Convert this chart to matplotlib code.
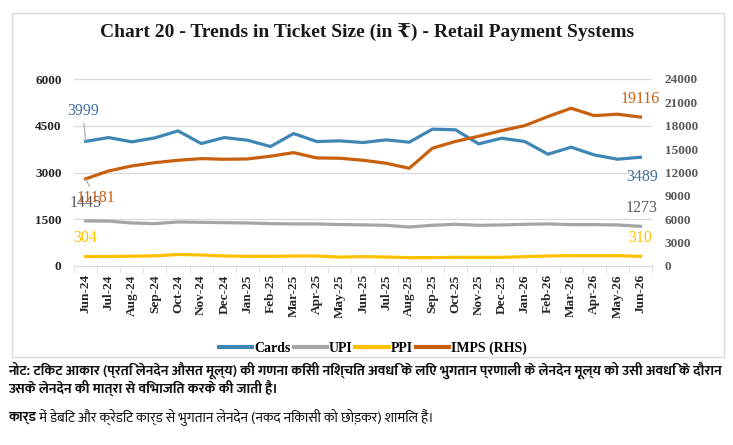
import matplotlib
matplotlib.use("Agg")
import matplotlib.pyplot as plt
from matplotlib.lines import Line2D
from matplotlib.patches import Rectangle

months = ["Jun-24", "Jul-24", "Aug-24", "Sep-24", "Oct-24", "Nov-24", "Dec-24",
          "Jan-25", "Feb-25", "Mar-25", "Apr-25", "May-25", "Jun-25", "Jul-25",
          "Aug-25", "Sep-25", "Oct-25", "Nov-25", "Dec-25", "Jan-26", "Feb-26",
          "Mar-26", "Apr-26", "May-26", "Jun-26"]
cards = [3999, 4121, 3983, 4111, 4336, 3929, 4121, 4036, 3833, 4250, 3993, 4015,
         3961, 4047, 3972, 4390, 4370, 3919, 4100, 3993, 3587, 3812, 3565, 3426, 3489]
upi = [1445, 1440, 1380, 1360, 1413, 1402, 1390, 1380, 1360, 1350, 1350, 1330,
       1320, 1306, 1250, 1306, 1338, 1306, 1317, 1338, 1350, 1327, 1327, 1317, 1273]
ppi = [304, 304, 315, 325, 370, 353, 321, 310, 310, 320, 320, 285, 300, 289, 268,
       268, 279, 279, 279, 300, 321, 331, 331, 331, 310]
imps = [11181, 12199, 12841, 13265, 13570, 13780, 13700, 13740, 14090, 14550, 13870,
        13830, 13570, 13190, 12540, 15110, 15990, 16650, 17380, 18020, 19180, 20250,
        19300, 19480, 19116]
left_ticks = [0, 1500, 3000, 4500, 6000]
right_ticks = [0, 3000, 6000, 9000, 12000, 15000, 18000, 21000, 24000]

title = "Chart 20 - Trends in Ticket Size (in ₹) - Retail Payment Systems"
note1 = "नोट: टिकट आकार (प्रति लेनदेन औसत मूल्य) की गणना किसी निश्चित अवधि के लिए भुगतान प्रणाली के लेनदेन मूल्य को उसी अवधि के दौरान"
note2 = "उसके लेनदेन की मात्रा से विभाजित करके की जाती है।"
note3a = "कार्ड"
note3b = " में डेबिट और क्रेडिट कार्ड से भुगतान लेनदेन (नकद निकासी को छोड़कर) शामिल हैं।"

deva_family = ["Mukta", "Noto Sans Devanagari", "DejaVu Sans"]
SERIF = ["Liberation Serif", "DejaVu Serif", "DejaVu Sans"]

c_cards = "#3F86B4"
c_upi = "#A5A5A5"
c_ppi = "#FFC000"
c_imps = "#C8600E"

fig = plt.figure(figsize=(7.33, 4.45), dpi=100)
fig.patches.append(Rectangle((12 / 733, 1 - 357 / 445), 712 / 733, 344 / 445,
                             transform=fig.transFigure, fill=False,
                             edgecolor="#D9D9D9", linewidth=1.0))

ax = fig.add_axes([74 / 733, 1 - 266 / 445, 578 / 733, 187 / 445])
ax2 = ax.twinx()
x = list(range(len(months)))

ax.plot(x, cards, color=c_cards, lw=2.3, solid_joinstyle="round", zorder=3)
ax.plot(x, upi, color=c_upi, lw=2.3, solid_joinstyle="round", zorder=3)
ax.plot(x, ppi, color=c_ppi, lw=2.3, solid_joinstyle="round", zorder=3)
ax2.plot(x, imps, color=c_imps, lw=2.3, solid_joinstyle="round", zorder=3)

ax.set_xlim(-0.5, len(months) - 0.5)
ax.set_ylim(0, 6000)
ax2.set_ylim(0, 24000)
ax.set_yticks(left_ticks)
ax2.set_yticks(right_ticks)
ax.grid(axis="y", color="#D9D9D9", lw=0.9)
ax.set_axisbelow(True)
for a in (ax, ax2):
    for s in ("top", "left", "right"):
        a.spines[s].set_visible(False)
    a.spines["bottom"].set_color("#D9D9D9")
ax.set_xticks(x)
ax.set_xticklabels(months, rotation=90, fontfamily=SERIF, fontweight="bold",
                   fontsize=9.5, color="#262626")
ax.set_xticks([i - 0.5 for i in range(len(months) + 1)], minor=True)
ax.tick_params(axis="x", which="major", length=0, pad=6)
ax.tick_params(axis="x", which="minor", length=5, color="#D9D9D9")
ax.tick_params(axis="y", length=0, pad=9)
ax2.tick_params(axis="y", length=0, pad=9)
for t in ax.get_yticklabels():
    t.set_fontfamily(SERIF); t.set_fontweight("bold"); t.set_fontsize(9.5); t.set_color("#262626")
for t in ax2.get_yticklabels():
    t.set_fontfamily(SERIF); t.set_fontweight("bold"); t.set_fontsize(9.5); t.set_color("#595959")

lab_kw = dict(textcoords="offset points", ha="center", va="center",
              fontfamily=SERIF, fontsize=11.5)
n = len(months) - 1
ax.annotate(f"{cards[0]}", (0, cards[0]), xytext=(-2, 22), color="#41719C",
            arrowprops=dict(arrowstyle="-", color="#A6A6A6", lw=0.8, shrinkA=1, shrinkB=0), **lab_kw)
ax2.annotate(f"{imps[0]}", (0, imps[0]), xytext=(7.5, -14), color=c_imps,
             arrowprops=dict(arrowstyle="-", color="#A6A6A6", lw=0.8, shrinkA=1, shrinkB=0), **lab_kw)
ax.annotate(f"{upi[0]}", (0, upi[0]), xytext=(0, 13), color="#595959", **lab_kw)
ax.annotate(f"{ppi[0]}", (0, ppi[0]), xytext=(0, 13), color=c_ppi, **lab_kw)
ax2.annotate(f"{imps[n]}", (n, imps[n]), xytext=(0, 13), color=c_imps, **lab_kw)
ax.annotate(f"{cards[n]}", (n, cards[n]), xytext=(1, -14), color="#41719C", **lab_kw)
ax.annotate(f"{upi[n]}", (n, upi[n]), xytext=(1, 13.5), color="#595959", **lab_kw)
ax.annotate(f"{ppi[n]}", (n, ppi[n]), xytext=(0, 13.5), color=c_ppi, **lab_kw)

fig.text(367 / 733, 1 - 33 / 445, title, ha="center", va="center",
         fontfamily=SERIF, fontweight="bold", fontsize=14, color="#1a1a1a")

handles = [Line2D([], [], color=c, lw=3) for c in (c_cards, c_upi, c_ppi, c_imps)]
fig.legend(handles, ["Cards", "UPI", "PPI", "IMPS (RHS)"], loc="center",
           bbox_to_anchor=(373 / 733, 1 - 348 / 445), ncol=4, frameon=False,
           handlelength=2.4, handletextpad=0.15, columnspacing=0.2,
           prop=dict(family=SERIF, weight="bold", size=10))

# notes: size chosen so that the first line spans the same width as in the reference
note_kw = dict(ha="left", va="center", fontfamily=deva_family, color="#111111")
fs = 9.5
t1 = fig.text(8 / 733, 1 - 370 / 445, note1, fontweight="bold", fontsize=fs, **note_kw)
fig.canvas.draw()
w = t1.get_window_extent().width
fs = min(11, fs * 716 / w)
t1.set_fontsize(fs)
fig.text(8 / 733, 1 - 388 / 445, note2, fontweight="bold", fontsize=fs, **note_kw)
t3 = fig.text(8 / 733, 1 - 417 / 445, note3a, fontweight="bold", fontsize=fs, **note_kw)
fig.canvas.draw()
bb = t3.get_window_extent()
fig.text(bb.x1 / fig.bbox.width, 1 - 417 / 445, note3b, fontsize=fs, **note_kw)

fig.savefig("out.png", dpi=100)
